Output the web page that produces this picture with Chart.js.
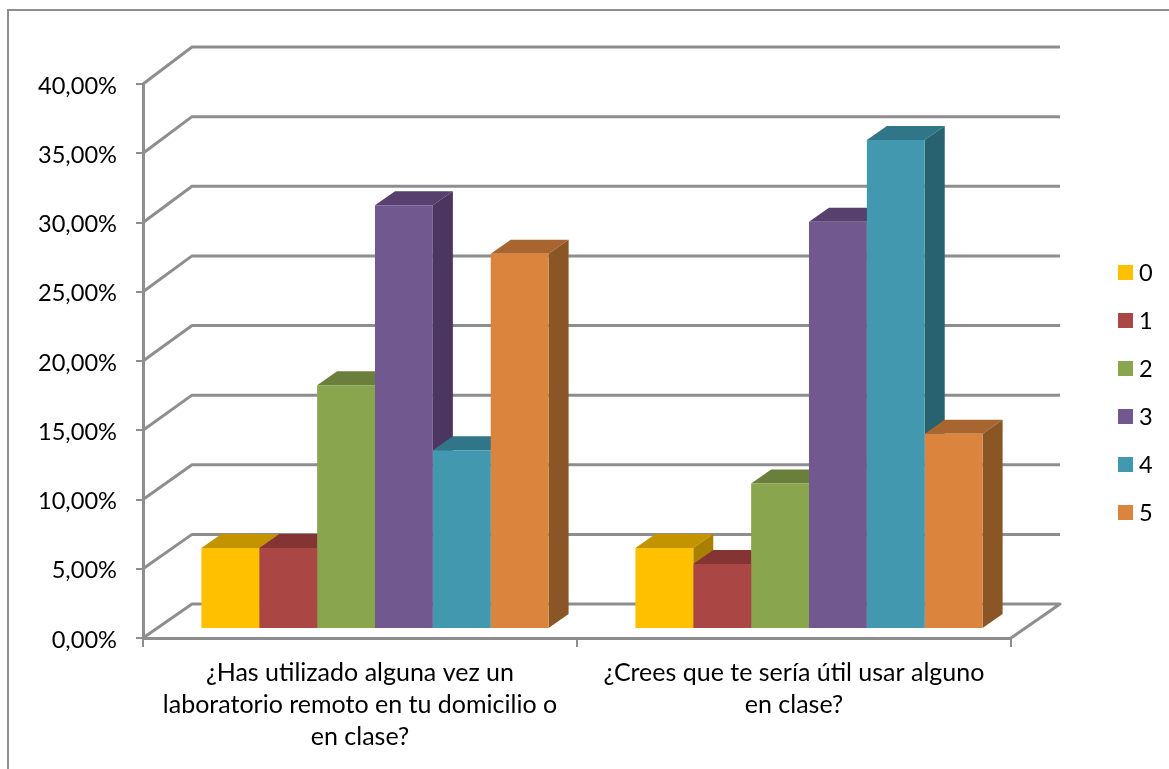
<!DOCTYPE html>
<html><head><meta charset="utf-8">
<style>html,body{margin:0;padding:0;background:#fff}canvas{display:block}</style>
<script src="https://cdn.jsdelivr.net/npm/chart.js@4"></script>
</head><body><canvas id="c" width="1169" height="769"></canvas>
<script>
const categories = [
  ['¿Has utilizado alguna vez un','laboratorio remoto en tu domicilio o','en clase?'],
  ['¿Crees que te sería útil usar alguno','en clase?']
];
const seriesNames = ['0','1','2','3','4','5'];
const series0 = [5.85, 5.85];
const series1 = [5.85, 4.7];
const series2 = [17.6, 10.5];
const series3 = [30.6, 29.4];
const series4 = [12.9, 35.3];
const series5 = [27.1, 14.1];
const frontColors = ['#FFC000','#AA4643','#89A54E','#71588F','#4198AF','#DB843D'];
const topColors   = ['#C49300','#843533','#6A7F3C','#573F6E','#317589','#A96530'];
const sideColors  = ['#A87F00','#722D2B','#5B6D33','#4A365E','#286270','#8B5626'];
const lineColor = '#8E8E8E';
const allValues = [series0, series1, series2, series3, series4, series5];

const tickFont = {family:'Lato', size:23.6};
const catFont = {family:'Lato', size:25, lineHeight:32/25};
const shiftX = 15, shiftY = -9, depthX = 20, depthY = -14;

const chrome = {
  id:'chrome',
  beforeDraw(chart){
    const {ctx, chartArea:a, scales:{y}} = chart;
    ctx.save();
    ctx.strokeStyle = lineColor; ctx.lineWidth = 2;
    ctx.beginPath(); ctx.moveTo(8,769); ctx.lineTo(8,10); ctx.lineTo(1169,10); ctx.stroke();
    ctx.lineWidth = 3; ctx.lineJoin='round';
    y.ticks.forEach(t=>{
      const py = y.getPixelForValue(t.value);
      const by = 604 - (638-py)*557/554;
      ctx.beginPath(); ctx.moveTo(a.left,py); ctx.lineTo(192,by); ctx.lineTo(1060,by);
      if(t.value===0) ctx.lineTo(a.right,py);
      ctx.stroke();
    });
    ctx.restore();
  },
  beforeDatasetsDraw(chart){
    const {ctx} = chart;
    ctx.save();
    ctx.translate(shiftX, shiftY);
    const n = chart.data.labels.length;
    for(let c=0;c<n;c++){
      chart.data.datasets.forEach((ds,i)=>{
        const el = chart.getDatasetMeta(i).data[c];
        const l = el.x-el.width/2, r = el.x+el.width/2, t = el.y, b = el.base;
        ctx.fillStyle = topColors[i];
        ctx.beginPath(); ctx.moveTo(l,t); ctx.lineTo(l+depthX,t+depthY); ctx.lineTo(r+depthX,t+depthY); ctx.lineTo(r,t); ctx.closePath(); ctx.fill();
        ctx.fillStyle = sideColors[i];
        ctx.beginPath(); ctx.moveTo(r,t); ctx.lineTo(r+depthX,t+depthY); ctx.lineTo(r+depthX,b+depthY); ctx.lineTo(r,b); ctx.closePath(); ctx.fill();
      });
    }
  },
  afterDatasetsDraw(chart){
    chart.ctx.restore();
    const {ctx} = chart;
    ctx.save();
    ctx.font = `${tickFont.size}px ${tickFont.family}`;
    ctx.textBaseline='middle'; ctx.textAlign='left';
    chart.data.datasets.forEach((ds,i)=>{
      const cy = 272.5 + i*48;
      ctx.fillStyle = ds.backgroundColor;
      ctx.fillRect(1118, cy-7.5, 15, 15);
      ctx.fillStyle = '#000';
      ctx.fillText(ds.label, 1139, cy+1);
    });
    ctx.restore();
  }
};

new Chart(document.getElementById('c'),{
  type:'bar',
  data:{
    labels:categories,
    datasets:seriesNames.map((name,i)=>({label:name,data:allValues[i],backgroundColor:frontColors[i],borderWidth:0,clip:false}))
  },
  options:{
    responsive:false, animation:false,
    layout:{padding:{top:84,right:158,left:0,bottom:0}},
    datasets:{bar:{categoryPercentage:0.8,barPercentage:1}},
    plugins:{legend:{display:false},title:{display:false},tooltip:{enabled:false}},
    scales:{
      x:{
        afterFit(s){s.height=131;},
        grid:{drawOnChartArea:false,color:lineColor,lineWidth:2,tickLength:9},
        border:{color:lineColor,width:3},
        ticks:{color:'#000',font:catFont,padding:10,maxRotation:0,autoSkip:false}
      },
      y:{
        min:0,max:40,
        afterFit(s){s.width=143;},
        grid:{drawOnChartArea:false,color:lineColor,lineWidth:2,tickLength:7},
        border:{color:lineColor,width:3},
        ticks:{color:'#000',font:tickFont,padding:19,stepSize:5,labelOffset:2,callback:v=>v.toFixed(2).replace('.',',')+'%'}
      }
    }
  },
  plugins:[chrome]
});
</script></body></html>
